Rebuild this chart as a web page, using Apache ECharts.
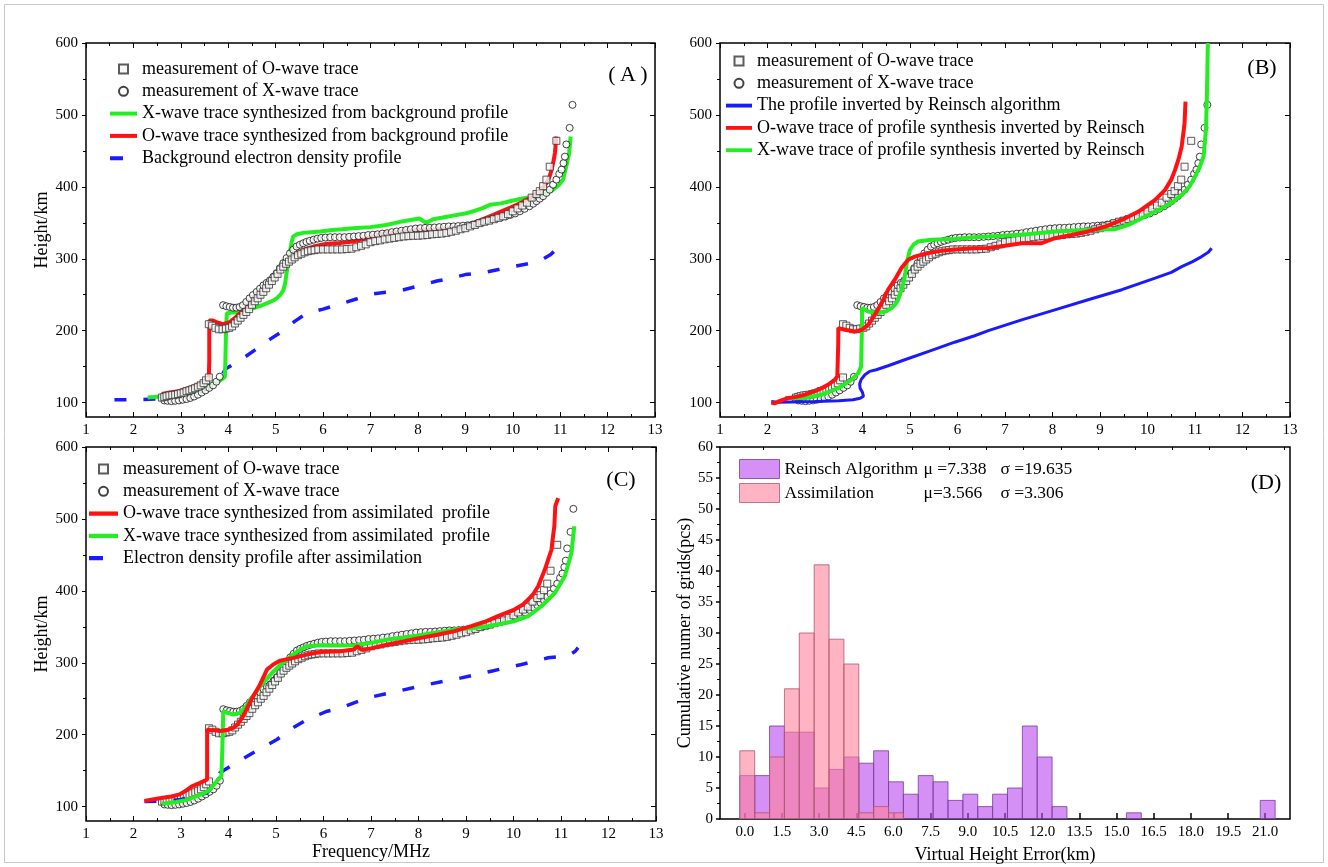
<!DOCTYPE html>
<html>
<head>
<meta charset="utf-8">
<script src="https://cdn.jsdelivr.net/npm/echarts@6/dist/echarts.min.js"></script>
<style>
html,body{margin:0;padding:0;background:#fff;}
#chart{width:1328px;height:867px;}
</style>
</head>
<body>
<div id="chart"></div>
<script>
// ---------- Measured traces (shared by panels A, B, C) ----------
const measO = [[2.60,107],[2.65,108],[2.70,109],[2.76,110],[2.82,110.5],[2.88,111],[2.94,112],[3.00,113],[3.06,114],[3.12,116],[3.18,117],[3.24,118.5],[3.30,120],[3.36,122],[3.42,124],[3.48,127],[3.53,131],[3.59,135],
[3.59,209],[3.66,207],[3.73,204],[3.80,202],[3.88,202],[3.95,203],[4.02,204],[4.08,206],[4.14,210],[4.20,214],[4.26,218],[4.32,222],[4.38,226],[4.44,230],[4.50,236],[4.56,241],[4.62,245],[4.68,250],[4.74,254],[4.80,259],[4.86,264],[4.92,269],[4.98,274],[5.04,279],[5.10,285],[5.16,289],[5.22,293],[5.28,296],[5.34,299],[5.40,302],[5.47,305],[5.54,307],[5.61,309],[5.68,310.5],[5.75,311.5],[5.82,312],[5.90,313],[6.00,313],[6.10,313],[6.20,313],[6.30,313],[6.40,313],[6.50,313.5],[6.60,314],[6.70,316],[6.80,318],[6.90,320],[7.00,323],[7.10,324.5],[7.20,325.5],[7.30,327],[7.40,328],[7.50,329],[7.60,330],[7.70,331],[7.80,331.5],[7.90,332],[8.00,332],[8.10,332.5],[8.20,333],[8.30,334],[8.40,334.5],[8.50,335],[8.60,336],[8.70,337.5],[8.80,339],[8.90,341],[9.00,342.5],[9.10,345],[9.20,347],[9.30,349.5],[9.40,351.5],[9.50,353],[9.60,355],[9.70,357],[9.80,359],[9.90,362],[10.00,366],[10.10,370],[10.20,374],[10.30,378],[10.40,385],[10.50,390],[10.57,394],[10.64,401],[10.71,410],[10.78,428],[10.92,464]];
const measX = [[2.65,103],[2.72,102.5],[2.80,102],[2.88,102.5],[2.96,103],[3.04,104],[3.12,105],[3.20,106.5],[3.28,108.5],[3.36,111],[3.44,114],[3.52,117],[3.60,120.5],[3.68,124],[3.75,129],[3.82,136],
[3.89,235.5],[3.96,234],[4.03,233],[4.10,232],[4.17,232],[4.24,233],[4.31,235.5],[4.38,240],[4.45,245],[4.52,249.5],[4.60,254],[4.67,258.5],[4.74,263],[4.81,266.5],[4.88,270],[4.95,275],[5.02,280],[5.09,287],[5.16,294],[5.23,301],[5.30,307.5],[5.37,312.5],[5.44,317],[5.51,319.5],[5.58,321.5],[5.65,323.5],[5.72,325],[5.80,326.5],[5.88,328],[5.96,329],[6.05,329.5],[6.15,330],[6.25,330],[6.35,330],[6.45,330],[6.55,330.5],[6.65,331],[6.75,331.5],[6.85,332],[6.95,333],[7.05,333.5],[7.15,334],[7.25,335],[7.35,335.5],[7.45,337],[7.55,338],[7.65,339],[7.75,340],[7.85,341],[7.95,342],[8.05,342.5],[8.15,343],[8.25,343],[8.35,343.5],[8.45,344],[8.55,344.5],[8.65,345],[8.75,345],[8.85,345.5],[8.95,346],[9.05,346.5],[9.15,347.5],[9.25,349],[9.35,350.5],[9.45,352.5],[9.55,354.5],[9.65,356],[9.75,357.5],[9.85,359],[9.95,361],[10.05,363],[10.15,366],[10.25,369.5],[10.35,373],[10.43,376.5],[10.50,380],[10.57,383.5],[10.64,387],[10.71,391.5],[10.78,396],[10.85,403],[10.92,410],[10.98,418],[11.03,424],[11.07,433],[11.10,442],[11.13,459],[11.20,482],[11.26,514]];

// ---------- Panel A ----------
const aGreen = [[2.3,107],[2.5,108],[2.76,110],[3.0,111],[3.11,112],[3.3,115],[3.47,119],[3.6,123],[3.75,128],[3.88,133],[3.93,136],[3.94,160],[3.95,190],[3.96,210],[3.97,224],[4.03,225],[4.24,226],[4.4,229],[4.52,231],[4.7,235],[4.81,238],[4.95,242],[5.02,245],[5.1,250],[5.16,256],[5.2,266],[5.23,280],[5.27,296],[5.3,310],[5.34,324],[5.37,331],[5.45,334],[5.58,336],[5.75,337],[5.94,338],[6.2,340],[6.4,341],[6.63,342.5],[7.0,344],[7.33,347],[7.6,351],[8.03,356],[8.12,352],[8.18,350],[8.32,355],[8.5,357],[8.74,360],[9.0,363],[9.16,366],[9.35,370],[9.52,375],[9.75,377],[9.94,380],[10.15,383],[10.3,385],[10.5,387],[10.7,391],[10.85,396],[10.98,403],[11.06,410],[11.13,429],[11.19,447],[11.22,470]];
const aRed = [[2.6,112],[2.76,114],[2.95,116],[3.11,119],[3.25,122],[3.4,126],[3.5,130],[3.59,135],[3.6,160],[3.6,190],[3.6,214],[3.68,214],[3.75,212],[3.89,209],[4.03,212],[4.13,217],[4.24,224],[4.35,231],[4.45,238],[4.56,245],[4.67,252],[4.78,260],[4.88,268],[4.98,276],[5.09,284],[5.2,291],[5.3,298],[5.41,305],[5.51,310],[5.65,314],[5.8,317],[6.08,321],[6.36,322],[6.63,324],[7.0,330],[7.33,335.6],[7.7,338],[8.03,340],[8.4,341],[8.74,342.5],[9.0,346],[9.16,349.5],[9.4,356],[9.59,361],[9.8,367],[10.01,373],[10.15,377],[10.29,382],[10.4,386],[10.5,391],[10.62,398],[10.71,405],[10.78,415],[10.82,424],[10.86,436],[10.89,447],[10.92,470]];
const aBlue = [[1.6,104],[2.0,104],[2.5,105],[2.9,108],[3.3,113],[3.6,121],[3.8,132],[3.95,147],[4.3,161],[4.6,175],[4.9,189],[5.16,200],[5.4,213],[5.65,224],[6.0,230],[6.35,237],[6.7,244],[7.05,251],[7.4,254],[7.7,257],[8.0,262],[8.4,269],[8.7,273],[9.0,278],[9.4,281],[9.7,285],[10.0,289],[10.4,294],[10.6,298],[10.8,306],[10.9,312],[11.0,321]];

// ---------- Panel B ----------
const bBlue = [[2.08,101.5],[2.2,100.5],[2.5,101],[3.0,101.5],[3.5,102.5],[3.8,104],[3.95,106],[4.02,109],[4.0,114],[3.95,120],[3.94,126],[3.97,132],[4.05,138.7],[4.15,143.4],[4.29,145.7],[4.54,151.3],[4.89,159.6],[5.38,171],[5.94,184],[6.36,193],[6.65,200],[7.35,215],[8.05,229],[8.75,243],[9.46,257],[10.16,273],[10.5,281],[10.72,289],[10.95,296],[11.14,303],[11.28,309],[11.35,314.7]];
const bRed = [[2.08,100],[2.15,99],[2.25,102],[2.44,106.4],[2.6,108],[2.79,111],[3.0,116],[3.14,120],[3.3,126],[3.42,132],[3.47,136.5],[3.48,160],[3.49,185],[3.49,203.6],[3.63,201.3],[3.84,199],[3.98,201],[4.12,208],[4.26,222],[4.4,238],[4.54,257],[4.68,271],[4.82,287],[4.96,298.6],[5.1,303],[5.38,308],[5.66,311],[5.95,313],[6.36,314.5],[6.65,315],[7.0,318],[7.35,321.7],[7.77,321.7],[8.05,328.6],[8.4,333],[8.75,338],[9.11,344.8],[9.46,354],[9.81,365.7],[10.16,381.9],[10.37,395.8],[10.5,410],[10.58,423.6],[10.66,440],[10.72,456],[10.78,488],[10.8,518.5]];
const bGreen = [[2.37,106.4],[2.79,106.4],[3.14,111],[3.49,120],[3.77,132],[3.91,141],[3.97,150],[3.98,180],[3.99,210],[3.99,231.4],[4.12,226.8],[4.33,224.5],[4.5,227],[4.61,231.4],[4.7,237],[4.75,243],[4.81,255],[4.86,266],[4.9,280],[4.93,294],[5.0,312.5],[5.08,320],[5.17,324],[5.45,326.3],[5.94,327.5],[6.36,330],[6.65,331],[7.35,333.3],[8.05,337.9],[8.75,340.2],[9.32,341.1],[9.6,347],[9.95,358.7],[10.3,370.3],[10.55,380],[10.72,388.8],[10.88,400],[11.0,414.3],[11.1,428],[11.18,442.1],[11.23,479.1],[11.25,525.4],[11.26,560],[11.27,600]];

// ---------- Panel C ----------
const cRed = [[2.23,108],[2.4,110],[2.62,112.3],[2.8,114],[2.97,117],[3.1,122],[3.22,128],[3.4,133],[3.55,137.7],[3.55,170],[3.55,207],[3.7,206],[3.82,205],[4.0,207],[4.1,209.5],[4.2,215],[4.31,225.7],[4.4,238],[4.52,253.5],[4.65,268],[4.81,290.6],[4.95,298],[5.09,303],[5.37,306.8],[5.65,311.4],[5.94,315],[6.36,316],[6.64,318.4],[6.71,323],[6.8,318],[7.0,320],[7.35,325.4],[7.7,330],[8.05,334.6],[8.4,339],[8.76,344],[9.11,350.9],[9.4,357],[9.67,364.8],[10.02,374],[10.2,381],[10.31,388],[10.42,396],[10.52,406.4],[10.66,429.6],[10.8,457.4],[10.83,475],[10.86,490],[10.88,517.6],[10.94,529]];
const cGreen = [[2.6,104],[2.9,106.3],[3.1,109],[3.33,114.6],[3.5,119],[3.61,123.8],[3.78,137.7],[3.85,142.4],[3.87,180],[3.89,232.7],[4.0,230],[4.1,228],[4.24,230.4],[4.35,238],[4.5,252],[4.67,267.4],[4.81,278],[4.95,288.3],[5.09,297],[5.23,304.5],[5.37,312],[5.51,318.3],[5.65,323],[5.94,324.5],[6.36,324],[6.64,324.5],[6.99,327.7],[7.35,332.3],[8.0,338],[8.76,346.2],[9.1,348],[9.46,350.9],[10.02,357.8],[10.31,364.8],[10.59,378.6],[10.87,397],[11.08,420.3],[11.22,452.7],[11.28,489.8]];
const cBlue = [[2.23,107],[2.6,107.5],[3.0,110],[3.3,114],[3.54,119],[3.7,130],[3.82,147],[4.1,158.6],[4.52,174.8],[5.02,193.3],[5.3,207.2],[5.65,221],[6.08,232.7],[6.36,237],[6.93,251.3],[7.56,260.5],[8.19,269.8],[8.9,279],[9.53,288.3],[10.17,297.6],[10.73,306.9],[11.15,310],[11.3,316],[11.36,321]];

// ---------- Panel D (histogram) ----------
const binCenters = [0.1,0.7,1.3,1.9,2.5,3.1,3.7,4.3,4.9,5.5,6.1,6.7,7.3,7.9,8.5,9.1,9.7,10.3,10.9,11.5,12.1,12.7,13.3,13.9,14.5,15.1,15.7,16.3,16.9,17.5,18.1,18.7,19.3,19.9,20.5,21.1];
const binWidth = 0.6;
const reinschCounts = [7,7,15,14,14,5,8,10,9,11,6,4,7,6,3,4,2,4,5,15,10,2,0,0,0,0,1,0,0,0,0,0,0,0,0,3];
const assimCounts   = [11,1,10,21,30,41,29,25,1,2,1,0,0,0,0,0,0,0,0,0,0,0,0,0,0,0,0,0,0,0,0,0,0,0,0,0];
const dTickLabels = [0,1.5,3,4.5,6,7.5,9,10.5,12,13.5,15,16.5,18,19.5,21];
const dMinorTicks = [0.75,2.25,3.75,5.25,6.75,8.25,9.75,11.25,12.75,14.25,15.75,17.25,18.75,20.25,21.75];
const heightTicks = [100,200,300,400,500,600];
const heightMinor = [150,250,350,450,550];

// ---------- Build ----------
const FONT = '"Liberation Serif","Times New Roman",serif';
const chart = echarts.init(document.getElementById('chart'), null, {renderer:'canvas'});

const grids = [
  {left:86, top:43, width:569, height:374},
  {left:720, top:43, width:570, height:374},
  {left:86, top:447, width:570, height:374},
  {left:720, top:447, width:570, height:372}
].map(g => Object.assign({show:true, borderColor:'#000', borderWidth:1.5, backgroundColor:'transparent'}, g));

const tickLbl = {color:'#000', fontSize:15, fontFamily:FONT};
const noLine = {show:false, onZero:false};
const xAxes = [], yAxes = [];
function freqAxes(gi, withName){
  xAxes.push({gridIndex:gi, type:'value', min:1, max:13, interval:1,
    name: withName ? 'Frequency/MHz' : '', nameLocation:'middle', nameGap:18,
    nameTextStyle:{fontSize:18, fontFamily:FONT, color:'#000'},
    axisLine:noLine, splitLine:{show:false},
    axisTick:{inside:true, length:5, lineStyle:{color:'#000', width:1}},
    minorTick:{show:true, splitNumber:2, length:3, lineStyle:{color:'#000'}},
    axisLabel:Object.assign({margin:6}, tickLbl)});
  xAxes.push({gridIndex:gi, type:'value', position:'top', min:1, max:13, interval:1,
    axisLine:noLine, splitLine:{show:false}, axisLabel:{show:false},
    axisTick:{inside:true, length:5, lineStyle:{color:'#000'}},
    minorTick:{show:true, splitNumber:2, length:3, lineStyle:{color:'#000'}}});
}
function heightAxes(gi, withName){
  yAxes.push({gridIndex:gi, type:'value', min:80, max:600,
    name: withName ? 'Height/km' : '', nameLocation:'middle', nameGap:34,
    nameTextStyle:{fontSize:18, fontFamily:FONT, color:'#000'},
    axisLine:noLine, splitLine:{show:false},
    axisTick:{customValues:heightTicks, length:4, lineStyle:{color:'#000'}},
    axisLabel:Object.assign({customValues:heightTicks, margin:8}, tickLbl)});
  yAxes.push({gridIndex:gi, type:'value', min:80, max:600, position:'left',
    axisLine:noLine, splitLine:{show:false}, axisLabel:{show:false},
    axisTick:{customValues:heightMinor, length:3, lineStyle:{color:'#000'}}});
  yAxes.push({gridIndex:gi, type:'value', min:80, max:600, position:'right',
    axisLine:noLine, splitLine:{show:false}, axisLabel:{show:false},
    axisTick:{inside:true, customValues:heightTicks, length:5, lineStyle:{color:'#000'}}});
}
freqAxes(0,false); heightAxes(0,true);   // x 0,1  y 0,1,2
freqAxes(1,false); heightAxes(1,false);  // x 2,3  y 3,4,5
freqAxes(2,true);  heightAxes(2,true);   // x 4,5  y 6,7,8
// D axes: x 6,7  y 9
xAxes.push({gridIndex:3, type:'value', min:-1, max:22,
  name:'Virtual Height Error(km)', nameLocation:'middle', nameGap:27,
  nameTextStyle:{fontSize:18, fontFamily:FONT, color:'#000'},
  axisLine:noLine, splitLine:{show:false},
  axisTick:{inside:true, customValues:dTickLabels, length:6, lineStyle:{color:'#000', width:1.5}},
  axisLabel:Object.assign({customValues:dTickLabels, margin:6, formatter:v=>v.toFixed(1)}, tickLbl)});
xAxes.push({gridIndex:3, type:'value', min:-1, max:22,
  axisLine:noLine, splitLine:{show:false}, axisLabel:{show:false},
  axisTick:{inside:true, customValues:dMinorTicks, length:3, lineStyle:{color:'#000'}}});
yAxes.push({gridIndex:3, type:'value', min:0, max:60, interval:5,
  name:'Cumulative numer of grids(pcs)', nameLocation:'middle', nameGap:25,
  nameTextStyle:{fontSize:18, fontFamily:FONT, color:'#000'},
  axisLine:noLine, splitLine:{show:false},
  axisTick:{length:4, lineStyle:{color:'#000', width:1.5}},
  minorTick:{show:true, splitNumber:2, length:3, lineStyle:{color:'#000'}},
  axisLabel:Object.assign({margin:7}, tickLbl)});

const sq = {symbol:'rect', symbolSize:7, itemStyle:{color:'#f6f6f6', borderColor:'#333', borderWidth:1}};
const ci = {symbol:'circle', symbolSize:7, itemStyle:{color:'#fff', borderColor:'#111', borderWidth:1}};
function scat(name, data, xi, yi, style, z){
  return Object.assign({type:'scatter', name, data, xAxisIndex:xi, yAxisIndex:yi, z}, JSON.parse(JSON.stringify(style)));
}
function line(name, data, xi, yi, color, width, dash, z){
  return {type:'line', name, data, xAxisIndex:xi, yAxisIndex:yi, z, symbol:'none', showSymbol:false,
    lineStyle:{color, width, type: dash ? [12,17] : 'solid', cap:'butt'}, itemStyle:{color}};
}
const N = {
  mO:'measurement of O-wave trace', mX:'measurement of X-wave trace',
  aX:'X-wave trace synthesized from background profile', aO:'O-wave trace synthesized from background profile', aB:'Background electron density profile',
  bB:'The profile inverted by Reinsch algorithm', bO:'O-wave trace of profile synthesis inverted by Reinsch', bX:'X-wave trace of profile synthesis inverted by Reinsch',
  cO:'O-wave trace synthesized from assimilated  profile', cX:'X-wave trace synthesized from assimilated  profile', cB:'Electron density profile after assimilation',
  dR:'Reinsch Algorithm', dA:'Assimilation'
};
const GREEN='#22ee22', RED='#ff1111', BLUE='#1a1aff';
const PURPLE='rgba(183,70,238,0.6)', PINK='rgba(255,128,155,0.6)';

function barRender(color, stroke){
  return function(params, api){
    const x = api.value(0), y = api.value(1);
    if (!y) return null;
    const p0 = api.coord([x - binWidth/2, y]);
    const p1 = api.coord([x + binWidth/2, 0]);
    return {type:'rect', shape:{x:p0[0], y:p0[1], width:p1[0]-p0[0], height:p1[1]-p0[1]},
      style:{fill:color, stroke:stroke, lineWidth:1}};
  };
}

const series = [
  // A
  line(N.aB, aBlue, 0, 0, BLUE, 3.5, true, 2),
  line(N.aX, aGreen, 0, 0, GREEN, 4, false, 3),
  line(N.aO, aRed, 0, 0, RED, 4, false, 4),
  scat(N.mX, measX, 0, 0, ci, 5),
  scat(N.mO, measO, 0, 0, sq, 6),
  // B
  scat(N.mX, measX, 2, 3, ci, 2),
  scat(N.mO, measO, 2, 3, sq, 3),
  line(N.bB, bBlue, 2, 3, BLUE, 3, false, 4),
  line(N.bX, bGreen, 2, 3, GREEN, 4, false, 5),
  line(N.bO, bRed, 2, 3, RED, 4, false, 6),
  // C
  scat(N.mX, measX, 4, 6, ci, 2),
  scat(N.mO, measO, 4, 6, sq, 3),
  line(N.cB, cBlue, 4, 6, BLUE, 3.5, true, 4),
  line(N.cX, cGreen, 4, 6, GREEN, 4, false, 5),
  line(N.cO, cRed, 4, 6, RED, 4, false, 6),
  // D
  {type:'custom', name:N.dR, xAxisIndex:6, yAxisIndex:9, clip:true, z:2,
   data: binCenters.map((c,i)=>[c, reinschCounts[i]]), encode:{x:0,y:1},
   itemStyle:{color:PURPLE}, renderItem: barRender(PURPLE, 'rgba(120,60,150,0.8)')},
  {type:'custom', name:N.dA, xAxisIndex:6, yAxisIndex:9, clip:true, z:3,
   data: binCenters.map((c,i)=>[c, assimCounts[i]]), encode:{x:0,y:1},
   itemStyle:{color:PINK}, renderItem: barRender(PINK, 'rgba(170,90,110,0.8)')}
];

// legend icons (shapes only)
const ICON_SQ = 'path://M0 0H10V10H0Z';
const ICON_LINE = 'path://M0 0H27V4H0Z';
const ICON_DASH = 'path://M0 0H13V4H0Z M26.9 0H27V0.1H26.9Z';
const iSq = n => ({name:n, icon:ICON_SQ});
const iCi = n => ({name:n, icon:'circle'});
const iLn = n => ({name:n, icon:ICON_LINE});
const iDs = n => ({name:n, icon:ICON_DASH});

const legTxt = {fontSize:18, fontFamily:FONT, color:'#000', lineHeight:20};
function leg(left, top, w, items){
  return {orient:'vertical', left, top, padding:0, itemWidth:w, itemHeight:9, itemGap:2.3,
    textStyle:legTxt, selectedMode:false, data:items};
}
const legends = [
  leg(110, 59, 27, [iSq(N.mO), iCi(N.mX), iLn(N.aX), iLn(N.aO), iDs(N.aB)]),
  leg(726, 51, 26, [iSq(N.mO), iCi(N.mX), iLn(N.bB), iLn(N.bO), iLn(N.bX)]),
  leg(89, 459, 29, [iSq(N.mO), iCi(N.mX), iLn(N.cO), iLn(N.cX), iDs(N.cB)]),
  {orient:'vertical', left:739, top:459, padding:0, itemWidth:40, itemHeight:19, itemGap:4, selectedMode:false,
   data:[{name:N.dR, icon:'rect', itemStyle:{color:PURPLE, borderColor:'rgba(120,60,150,0.8)', borderWidth:1}},
         {name:N.dA, icon:'rect', itemStyle:{color:PINK, borderColor:'rgba(170,90,110,0.8)', borderWidth:1}}],
   formatter: function(name){
     return name === N.dR ? '{n|Reinsch Algorithm}{m|μ =7.338}{s|σ =19.635}'
                          : '{n|Assimilation}{m|μ=3.566}{s|σ =3.306}';
   },
   textStyle:Object.assign({}, legTxt, {rich:{
     n:{fontSize:17.5, fontFamily:FONT, color:'#000', width:139},
     m:{fontSize:17.5, fontFamily:FONT, color:'#000', width:77},
     s:{fontSize:17.5, fontFamily:FONT, color:'#000'}}})}
];

const panelLbl = (x, y, t) => ({type:'text', x, y, style:{text:t, font:'22px ' + FONT, fill:'#000', textAlign:'center', textVerticalAlign:'middle'}});

chart.setOption({
  animation:false,
  backgroundColor:'#fff',
  grid:grids, xAxis:xAxes, yAxis:yAxes, series, legend:legends,
  graphic:[
    {type:'rect', shape:{x:4.5, y:4.5, width:1319, height:858}, style:{fill:'none', stroke:'#c8c8c8', lineWidth:1}},
    panelLbl(628, 75, '(\u2009A\u2009)'),
    panelLbl(1262, 68, '(B)'),
    panelLbl(621, 480, '(C)'),
    panelLbl(1266, 483, '(D)')
  ]
});
</script>
</body>
</html>
